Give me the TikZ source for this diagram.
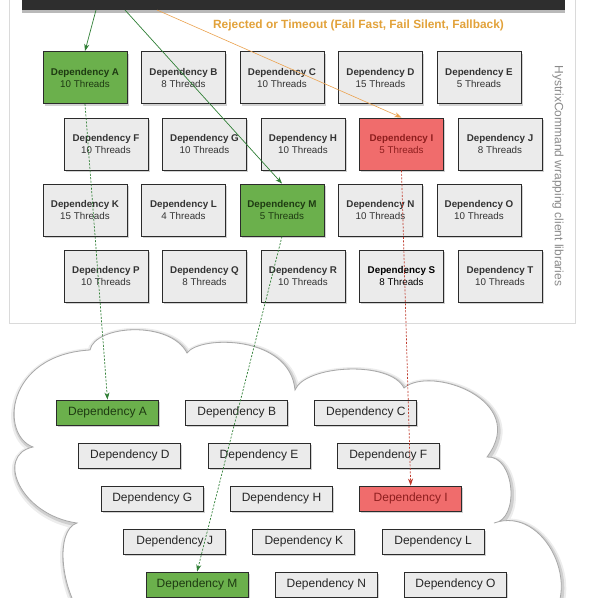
\documentclass[tikz,border=0pt]{standalone}
\usepackage{fontspec}
\setmainfont{Liberation Sans}
\usetikzlibrary{shadows,arrows.meta,calc}
\definecolor{boxgray}{HTML}{EBEBEB}
\definecolor{boxborder}{HTML}{2B2B2B}
\definecolor{textdark}{HTML}{333333}
\definecolor{thr}{HTML}{4A4A4A}
\definecolor{okgreen}{HTML}{6BB04C}
\definecolor{okgreentext}{HTML}{1E3A12}
\definecolor{badred}{HTML}{F06C6C}
\definecolor{badredtext}{HTML}{8E1E1E}
\definecolor{arrgreen}{HTML}{2F7F35}
\definecolor{arrred}{HTML}{C0392B}
\definecolor{arrorange}{HTML}{EBA24E}
\definecolor{labelorange}{HTML}{E2A23A}
\definecolor{paneledge}{HTML}{DADADA}
\definecolor{cloudedge}{HTML}{A8A8A8}
\definecolor{vertgray}{HTML}{8A8A8A}
\newcommand\cloudpath{(33,447) .. controls (0,435) and (5,355) .. (90,350)
 .. controls (95,325) and (170,320) .. (187,353)
 .. controls (200,335) and (290,335) .. (295,390)
 .. controls (305,365) and (390,360) .. (404,388)
 .. controls (430,365) and (530,400) .. (487,457)
 .. controls (515,455) and (520,520) .. (494,523)
 .. controls (545,505) and (585,590) .. (545,625)
 -- (545,640) -- (85,640) -- (85,620)
 .. controls (60,590) and (55,530) .. (77,523)
 .. controls (20,515) and (-5,455) .. (33,447) -- cycle}
\begin{document}
\begin{tikzpicture}[x=1pt,y=-1pt,
  gbox/.style={draw=boxborder, line width=0.9pt, fill=boxgray,
    minimum width=84pt, minimum height=52pt, inner sep=0pt, align=center,
    font=\fontsize{9.8}{12}\selectfont, text=textdark,
    drop shadow={shadow xshift=1.5pt, shadow yshift=-2.2pt, opacity=0.35}},
  cbox/.style={draw=boxborder, line width=0.9pt, fill=boxgray,
    minimum width=102pt, minimum height=25pt, inner sep=0pt,
    font=\fontsize{12}{14}\selectfont, text=black!85,
    drop shadow={shadow xshift=1.5pt, shadow yshift=-2.2pt, opacity=0.35}},
  okbox/.style={fill=okgreen, text=okgreentext},
  badbox/.style={fill=badred, text=badredtext},
  solidarrow/.style={line width=0.7pt, -{Stealth[length=7pt,width=5pt]}},
  dasharrow/.style={line width=0.7pt, dash pattern=on 2pt off 1.5pt, -{Stealth[length=7pt,width=5pt]}},
  topbar/.style={fill=black!82, draw=none, minimum width=543pt, minimum height=30pt, inner sep=0pt,
    drop shadow={shadow xshift=0pt, shadow yshift=-3pt, opacity=0.55}}
]
\useasboundingbox (0,0) rectangle (597,598);
\clip (0,0) rectangle (597,598);
\fill[white] (0,0) rectangle (597,598);
% panel
\draw[paneledge, fill=white, line width=0.8pt] (9,-10) rectangle (575,323);
% top bar
\node[topbar] (bar) at (293.5,-5) {};
\coordinate (s1) at (96,10);
\coordinate (s2) at (125,10);
\coordinate (s3) at (157,10);
% label
\node[font=\bfseries\fontsize{11.9}{13}\selectfont, text=labelorange] (rej) at (358.5,25)
  {Rejected or Timeout (Fail Fast, Fail Silent, Fallback)};
\node[font=\fontsize{12}{14}\selectfont, text=vertgray, rotate=-90] (lib) at (558,176)
  {HystrixCommand wrapping client libraries};
% grid boxes
\newcommand\gb[5]{\node[gbox,#5] (g#1) at (#2,#3) {{\bfseries Dependency #1}\\{#4 Threads}};}
\gb{A}{85}{77.5}{10}{okbox}
\gb{B}{183.5}{77.5}{8}{}
\gb{C}{282}{77.5}{10}{}
\gb{D}{380.5}{77.5}{15}{}
\gb{E}{479}{77.5}{5}{}
\gb{F}{106}{144}{10}{}
\gb{G}{204.5}{144}{10}{}
\gb{H}{303}{144}{10}{}
\gb{I}{401.5}{144}{5}{badbox}
\gb{J}{500}{144}{8}{}
\gb{K}{85}{210}{15}{}
\gb{L}{183.5}{210}{4}{}
\gb{M}{282}{210}{5}{okbox}
\gb{N}{380.5}{210}{10}{}
\gb{O}{479}{210}{10}{}
\gb{P}{106}{276}{10}{}
\gb{Q}{204.5}{276}{8}{}
\gb{R}{303}{276}{10}{}
\gb{S}{401.5}{276}{8}{text=black}
\gb{T}{500}{276}{10}{}
% cloud
\draw[black, opacity=0.07, line width=8pt, xshift=1pt, yshift=-2pt] \cloudpath;
\draw[black, opacity=0.12, line width=4pt, xshift=1pt, yshift=-1.5pt] \cloudpath;
\draw[cloudedge, fill=white, line width=0.8pt] \cloudpath;
% cloud boxes
\newcommand\cb[4]{\node[cbox,#4] (c#1) at (#2,#3) {Dependency #1};}
\cb{A}{107.5}{412.5}{okbox}
\cb{B}{236.7}{412.5}{}
\cb{C}{365.9}{412.5}{}
\cb{D}{129.9}{455.5}{}
\cb{E}{259.1}{455.5}{}
\cb{F}{388.3}{455.5}{}
\cb{G}{152.3}{498.5}{}
\cb{H}{281.5}{498.5}{}
\cb{I}{410.7}{498.5}{badbox}
\cb{J}{174.7}{541.5}{}
\cb{K}{303.9}{541.5}{}
\cb{L}{433.1}{541.5}{}
\cb{M}{197.1}{584.5}{okbox}
\cb{N}{326.3}{584.5}{}
\cb{O}{455.5}{584.5}{}
% arrows
\draw[solidarrow, arrgreen] (s1) -- (gA.north);
\draw[solidarrow, arrgreen] (s2) -- (gM.north);
\draw[solidarrow, arrorange, line width=0.6pt] (s3) -- (gI.north);
\draw[dasharrow, arrgreen] (gA.south) -- (cA.north);
\draw[dasharrow, arrgreen] (gM.south) -- (cM.north);
\draw[dasharrow, arrred] (gI.south) -- (cI.north);
\end{tikzpicture}
\end{document}
